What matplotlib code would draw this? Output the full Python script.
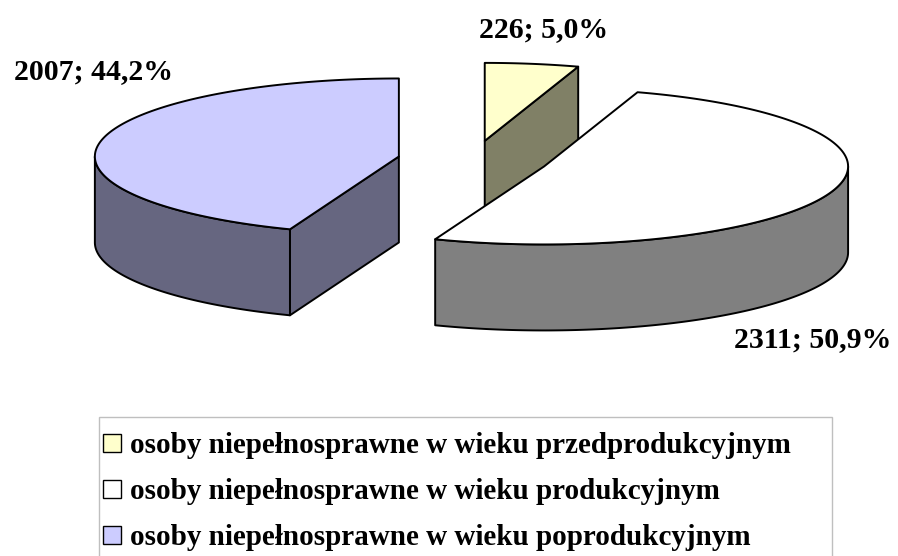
import numpy as np
import matplotlib
matplotlib.use("Agg")
import matplotlib.pyplot as plt
from matplotlib.patches import Polygon, Rectangle

# ---- data ----
categories = ["osoby niepełnosprawne w wieku przedprodukcyjnym",
              "osoby niepełnosprawne w wieku produkcyjnym",
              "osoby niepełnosprawne w wieku poprodukcyjnym"]
values = [226, 2311, 2007]
top_colors = ["#FFFFCC", "#FFFFFF", "#CCCCFF"]
side_colors = ["#808066", "#808080", "#666680"]

# ---- layout (pixel space) ----
W, H = 898, 556
fig = plt.figure(figsize=(W / 100, H / 100), dpi=100)
ax = fig.add_axes([0, 0, 1, 1])
ax.set_xlim(0, W)
ax.set_ylim(H, 0)
ax.axis("off")

P = np.array([473.0, 160.0])
rx, ry, depth = 304.0, 78.0, 86.0
explode = 0.248
lw = 1.4
FONT = "Liberation Serif"

total = sum(values)
fracs = [v / total for v in values]


def rim(c, th, dz=0.0):
    t = np.radians(th)
    return np.column_stack([c[0] + rx * np.sin(t), c[1] - ry * np.cos(t) + dz])


slices = []
start = 0.0
for i, f in enumerate(fracs):
    end = start + 360 * f
    mid = np.radians((start + end) / 2)
    c = P + explode * np.array([rx * np.sin(mid), -ry * np.cos(mid)])
    slices.append((i, start, end, c))
    start = end

# back-to-front ordering
for i, s, e, c in sorted(slices, key=lambda t: t[3][1]):
    # radial faces
    for th, vis in ((s, np.sin(np.radians(s)) < -1e-9), (e, np.sin(np.radians(e)) > 1e-9)):
        if vis:
            r = rim(c, [th])[0]
            poly = [c, r, r + [0, depth], c + [0, depth]]
            ax.add_patch(Polygon(poly, closed=True, fc=side_colors[i], ec="black", lw=lw, joinstyle="round"))
    # curved wall (front half)
    a0, a1 = max(s, 90), min(e, 270)
    if a1 > a0:
        th = np.linspace(a0, a1, 200)
        topa = rim(c, th)
        bota = rim(c, th[::-1], depth)
        ax.add_patch(Polygon(np.vstack([topa, bota]), closed=True, fc=side_colors[i], ec="black", lw=lw, joinstyle="round"))
    # top face
    th = np.linspace(s, e, 300)
    pts = np.vstack([c, rim(c, th)])
    ax.add_patch(Polygon(pts, closed=True, fc=top_colors[i], ec="black", lw=lw, joinstyle="round"))

# ---- data labels ----
label_pos = [(544, 30, "center"), (813, 340, "center"), (93, 72, "center")]
for (x, y, ha), v, f in zip(label_pos, values, fracs):
    txt = f"{v}; {f * 100:.1f}%".replace(".", ",")
    ax.text(x, y, txt, fontsize=21.5, fontweight="bold", family=FONT, ha=ha, va="center", color="black")

# ---- legend ----
ax.add_patch(Rectangle((99, 417), 733, 160, fc="white", ec="#BFBFBF", lw=1.0, clip_on=False))
row_base = [453, 499, 545]
for y, cat, col in zip(row_base, categories, top_colors):
    ax.add_patch(Rectangle((103, y - 19), 18, 18, fc=col, ec="black", lw=1.0))
    ax.text(130, y, cat, fontsize=21, fontweight="bold", family=FONT, ha="left", va="baseline", color="black")

fig.savefig("out.png", dpi=100, facecolor="white")
